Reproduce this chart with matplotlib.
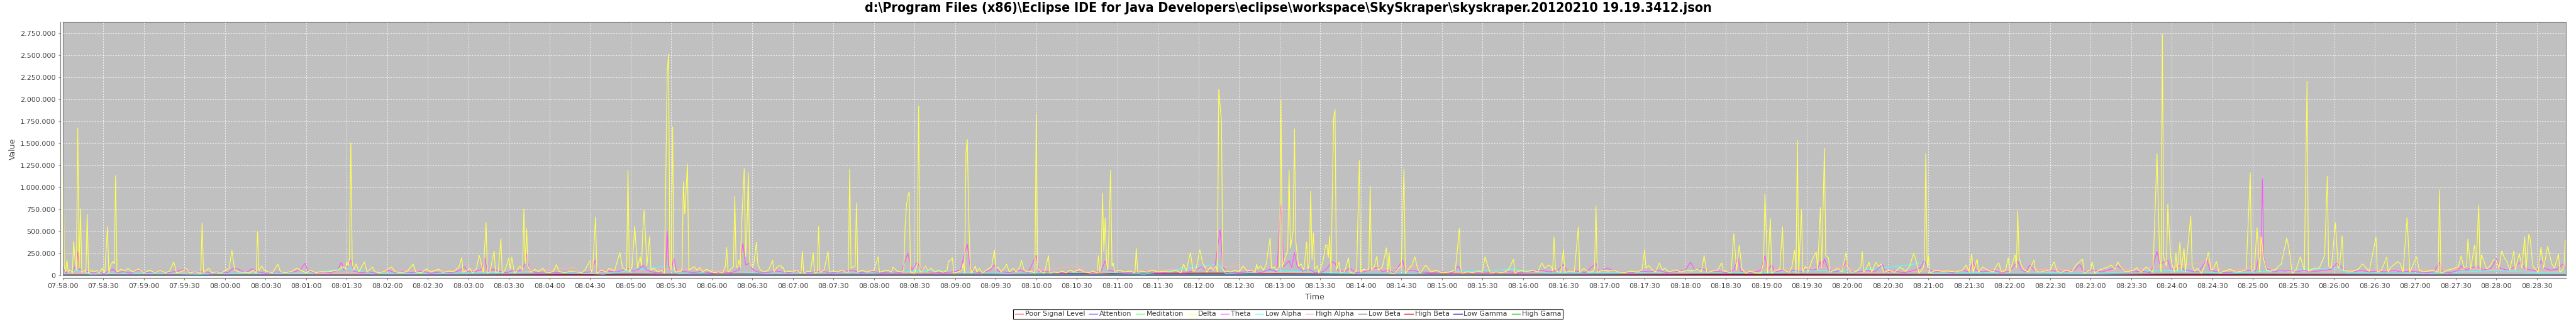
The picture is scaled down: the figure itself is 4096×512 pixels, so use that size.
import matplotlib
matplotlib.use("Agg")
import matplotlib.pyplot as plt
from matplotlib import font_manager
from matplotlib.ticker import MultipleLocator, FuncFormatter
from matplotlib.lines import Line2D

plt.rcParams['lines.scale_dashes'] = False
plt.rcParams['font.family'] = ['DejaVu Sans']

TITLE = r"d:\Program Files (x86)\Eclipse IDE for Java Developers\eclipse\workspace\SkySkraper\skyskraper.20120210 19.19.3412.json"
START_SECONDS = 7 * 3600 + 58 * 60  # 07:58:00

series_names = ["Poor Signal Level", "Attention", "Meditation", "Delta", "Theta",
                "Low Alpha", "High Alpha", "Low Beta", "High Beta", "Low Gamma", "High Gama"]
series_colors = ["#FF5555", "#5555FF", "#55FF55", "#FFFF55", "#FF55FF",
                 "#55FFFF", "#FFAFAF", "#808080", "#C00000", "#0000C0", "#00C000"]

# (seconds after 07:58:00, raw value)
poor_signal = [(0, 0), (1851, 0)]
attention = [(0, 40), (600, 60), (1200, 50), (1851, 45)]
meditation = [(0, 50), (600, 40), (1200, 60), (1851, 55)]

# (seconds after 07:58:00, value in thousands)
delta_k = [(0,1860),(1,100),(2,40),(3,178),(4,30),(5,60),(6,55),(7,25),(8,393),(9,178),(10,60),(11,1680),(12,83),(13,762),(14,36),(16,60),(17,30),(18,700),(19,24),(21,60),(23,40),(25,55),(27,30),(29,83),(31,30),(33,555),(34,24),(35,107),(37,160),(38,130),(39,1140),(40,36),(43,70),(46,50),(48,80),(52,40),(56,75),(60,30),(64,60),(68,35),(72,55),(76,30),(79,50),(82,155),(84,30),(88,45),(91,83),(94,30),(98,40),(102,24),(103,595),(104,36),(106,60),(108,83),(110,30),(114,40),(117,25),(120,55),(123,83),(125,286),(127,70),(130,40),(134,35),(138,30),(141,60),(143,24),(144,507),(145,50),(147,107),(149,60),(152,40),(155,30),(159,130),(161,40),(165,30),(170,50),(173,83),(176,60),(180,30),(183,60),(187,30),(191,45),(195,40),(199,50),(203,60),(207,100),(209,70),(210,155),(211,107),(212,200),(213,1510),(214,155),(215,60),(217,131),(219,40),(223,155),(225,40),(229,95),(231,40),(234,30),(238,50),(243,95),(246,40),(250,30),(255,50),(259,131),(261,40),(265,30),(269,76),(272,40),(278,71),(281,35),(286,50),(289,40),(293,95),(295,202),(296,36),(299,60),(301,83),(303,30),(306,80),(308,231),(311,36),(313,607),(314,24),(316,50),(319,278),(320,36),(322,40),(324,421),(325,24),(327,60),(330,202),(331,71),(332,210),(334,24),(336,60),(338,107),(340,60),(341,757),(342,131),(343,536),(344,107),(346,36),(349,70),(352,45),(355,83),(357,40),(360,30),(363,50),(365,124),(367,45),(371,30),(375,50),(379,40),(384,30),(386,60),(390,167),(391,36),(392,90),(394,667),(395,24),(398,60),(402,40),(404,83),(408,50),(412,262),(414,83),(417,60),(418,1200),(419,36),(421,95),(423,564),(425,83),(427,214),(428,107),(429,520),(430,743),(432,107),(434,445),(435,60),(437,83),(440,40),(443,60),(445,24),(447,2300),(448,2520),(449,107),(450,60),(451,1690),(452,107),(453,36),(455,50),(457,40),(458,83),(459,1070),(460,700),(462,1270),(463,60),(465,83),(467,100),(469,60),(471,90),(473,40),(476,70),(479,50),(482,30),(485,40),(488,30),(490,100),(491,320),(492,36),(494,70),(496,100),(497,905),(498,100),(499,90),(500,180),(501,83),(502,550),(504,1220),(505,214),(506,520),(507,1170),(508,150),(509,110),(510,100),(511,120),(513,381),(514,130),(516,60),(519,40),(522,60),(525,174),(526,40),(528,90),(530,115),(531,115),(532,80),(533,90),(534,36),(537,50),(540,40),(543,60),(546,24),(547,278),(548,24),(551,50),(553,40),(555,262),(556,24),(558,40),(559,560),(560,36),(563,60),(566,274),(567,36),(570,50),(573,40),(576,60),(579,40),(581,36),(582,1210),(583,83),(585,100),(586,107),(587,821),(588,36),(591,60),(594,40),(597,50),(600,60),(603,214),(604,36),(607,50),(610,60),(613,40),(614,95),(617,50),(620,40),(622,60),(623,560),(624,800),(625,893),(626,952),(627,36),(630,24),(632,131),(633,1930),(634,36),(636,60),(638,107),(640,50),(642,83),(645,40),(648,60),(651,35),(654,60),(655,160),(656,167),(657,180),(658,202),(659,24),(662,40),(665,60),(666,143),(667,24),(668,1400),(669,1550),(670,700),(671,179),(672,24),(675,107),(676,40),(678,83),(680,24),(683,60),(687,100),(689,293),(690,83),(692,90),(694,40),(697,95),(698,131),(700,40),(703,83),(705,40),(708,100),(709,174),(710,120),(711,60),(713,40),(716,50),(719,24),(720,1830),(721,83),(723,50),(726,24),(729,226),(730,24),(733,40),(736,30),(739,50),(742,30),(745,60),(748,40),(752,70),(755,40),(759,30),(762,50),(765,30),(766,226),(767,36),(768,100),(769,940),(770,270),(771,655),(772,131),(773,60),(775,1200),(776,107),(777,143),(778,36),(781,60),(785,40),(789,50),(793,30),(794,310),(795,36),(798,50),(802,40),(806,60),(810,40),(815,50),(819,40),(823,60),(827,30),(829,131),(831,50),(834,262),(836,48),(838,60),(841,293),(843,143),(845,95),(846,36),(849,95),(851,60),(853,110),(854,36),(855,2120),(857,1750),(858,71),(859,50),(861,48),(864,40),(867,60),(870,40),(873,107),(876,50),(879,60),(882,40),(883,131),(884,71),(886,107),(888,60),(890,120),(893,428),(894,83),(896,95),(898,60),(900,100),(901,2000),(902,95),(904,200),(906,285),(907,1200),(908,310),(910,500),(911,1670),(912,381),(914,107),(916,131),(918,60),(920,381),(921,60),(922,150),(923,964),(924,178),(925,488),(926,70),(928,112),(929,24),(932,155),(934,345),(935,350),(936,202),(937,452),(938,24),(940,1800),(941,1890),(942,60),(944,155),(945,36),(948,40),(951,202),(952,36),(955,24),(957,60),(959,1310),(960,36),(962,71),(964,60),(966,71),(967,1020),(968,60),(970,100),(972,221),(973,60),(976,95),(979,317),(980,36),(981,262),(982,24),(985,24),(988,83),(990,100),(992,1210),(993,24),(996,83),(998,120),(1000,214),(1002,83),(1004,24),(1008,119),(1012,40),(1016,60),(1020,30),(1025,36),(1030,60),(1033,536),(1034,83),(1035,24),(1039,40),(1043,30),(1047,50),(1050,40),(1052,214),(1054,107),(1056,24),(1060,40),(1064,30),(1068,50),(1070,83),(1073,186),(1074,24),(1078,60),(1082,40),(1087,60),(1091,40),(1094,143),(1096,83),(1099,119),(1101,100),(1102,48),(1103,440),(1104,71),(1106,40),(1108,36),(1110,293),(1111,36),(1115,50),(1118,40),(1121,555),(1122,36),(1125,79),(1129,36),(1132,50),(1133,83),(1134,793),(1135,36),(1139,60),(1143,50),(1147,60),(1151,40),(1155,30),(1160,50),(1164,40),(1168,60),(1170,293),(1171,83),(1173,112),(1176,60),(1178,40),(1181,143),(1183,60),(1185,83),(1188,40),(1193,64),(1197,40),(1201,60),(1205,50),(1209,71),(1212,40),(1214,226),(1216,36),(1220,50),(1224,60),(1227,143),(1228,60),(1231,40),(1234,36),(1236,476),(1238,60),(1240,345),(1242,71),(1245,24),(1248,50),(1252,30),(1256,24),(1258,150),(1259,929),(1261,24),(1263,650),(1264,24),(1266,48),(1270,71),(1272,555),(1273,60),(1277,36),(1279,100),(1281,293),(1282,24),(1283,1540),(1284,24),(1286,755),(1287,36),(1289,107),(1291,48),(1294,179),(1297,269),(1298,60),(1300,774),(1301,83),(1303,1450),(1304,226),(1306,202),(1307,36),(1310,60),(1313,79),(1316,40),(1319,262),(1320,107),(1323,36),(1327,50),(1330,100),(1331,274),(1332,36),(1334,83),(1336,150),(1338,36),(1341,148),(1343,100),(1345,131),(1347,36),(1351,60),(1355,36),(1359,95),(1363,50),(1366,100),(1369,255),(1371,155),(1373,24),(1376,83),(1377,150),(1378,1390),(1379,83),(1380,226),(1381,24),(1385,60),(1390,48),(1395,50),(1400,40),(1405,60),(1408,119),(1410,40),(1412,250),(1413,36),(1416,186),(1417,36),(1420,95),(1424,60),(1428,40),(1430,107),(1432,143),(1434,36),(1437,60),(1439,202),(1440,36),(1444,238),(1445,83),(1446,738),(1447,202),(1449,100),(1451,60),(1454,40),(1457,143),(1458,174),(1459,60),(1462,40),(1466,50),(1470,60),(1472,131),(1473,155),(1475,48),(1478,36),(1482,60),(1486,40),(1489,119),(1494,186),(1495,24),(1498,50),(1500,60),(1501,155),(1503,24),(1506,60),(1510,83),(1512,90),(1515,119),(1518,70),(1520,155),(1522,100),(1525,48),(1529,48),(1532,60),(1534,88),(1537,36),(1541,95),(1544,60),(1546,36),(1548,917),(1549,1390),(1551,202),(1552,36),(1553,2745),(1554,202),(1556,107),(1557,810),(1559,238),(1560,131),(1562,36),(1563,262),(1564,48),(1566,381),(1567,60),(1569,310),(1570,36),(1574,679),(1575,107),(1577,48),(1579,83),(1582,24),(1585,143),(1587,262),(1589,60),(1591,83),(1593,160),(1595,24),(1599,50),(1603,71),(1607,40),(1611,48),(1615,60),(1618,1170),(1619,48),(1621,60),(1623,548),(1625,36),(1626,440),(1628,179),(1630,60),(1633,50),(1637,71),(1639,107),(1641,131),(1645,428),(1647,274),(1649,24),(1652,71),(1655,214),(1656,167),(1658,60),(1660,2210),(1661,48),(1665,83),(1669,83),(1673,226),(1675,1130),(1676,107),(1678,83),(1681,602),(1683,83),(1684,95),(1686,452),(1687,60),(1690,50),(1694,48),(1698,70),(1701,131),(1706,48),(1711,436),(1712,36),(1715,60),(1719,210),(1720,36),(1722,95),(1727,155),(1729,136),(1731,36),(1734,660),(1736,36),(1741,214),(1743,60),(1746,40),(1749,48),(1753,60),(1757,36),(1758,976),(1759,24),(1764,60),(1769,83),(1772,100),(1774,226),(1776,83),(1778,107),(1779,417),(1781,71),(1784,350),(1785,83),(1787,802),(1788,60),(1789,238),(1791,155),(1793,71),(1796,120),(1798,179),(1800,174),(1802,83),(1804,281),(1806,200),(1808,155),(1810,60),(1813,281),(1814,60),(1817,250),(1819,83),(1821,445),(1822,60),(1824,469),(1825,421),(1827,107),(1831,36),(1833,321),(1835,83),(1838,333),(1841,131),(1843,83),(1846,245),(1847,36),(1850,83),(1851,393)]

theta_k = [(0,110),(2,30),(5,40),(8,60),(10,150),(11,267),(12,70),(14,60),(16,40),(19,50),(22,25),(26,45),(30,20),(34,50),(37,70),(40,30),(45,45),(50,25),(56,60),(62,30),(70,45),(78,30),(85,50),(90,70),(96,30),(104,45),(110,25),(116,40),(122,30),(126,80),(130,70),(135,30),(140,75),(144,40),(150,25),(158,40),(165,30),(172,45),(176,70),(179,138),(181,60),(186,30),(192,40),(198,30),(203,60),(206,150),(208,60),(211,120),(213,178),(215,50),(220,30),(226,40),(232,25),(240,60),(246,30),(252,45),(258,30),(265,50),(272,25),(280,40),(288,30),(294,60),(297,100),(300,40),(306,50),(310,70),(312,198),(314,40),(318,70),(322,50),(328,30),(334,60),(338,50),(341,100),(343,245),(345,60),(350,30),(358,40),(366,30),(374,45),(382,30),(390,40),(394,174),(396,40),(402,50),(410,40),(418,80),(422,50),(426,70),(429,115),(432,60),(438,30),(444,40),(446,100),(447,508),(448,100),(450,60),(452,202),(454,40),(460,45),(466,30),(472,45),(480,25),(488,40),(494,30),(500,60),(503,369),(505,120),(508,138),(510,70),(514,40),(520,30),(528,50),(536,30),(544,45),(552,30),(560,50),(568,30),(576,40),(584,60),(590,30),(598,45),(606,30),(614,40),(620,30),(625,255),(628,60),(632,150),(635,50),(638,100),(641,40),(650,30),(658,40),(664,60),(667,250),(669,357),(671,100),(674,40),(680,30),(686,60),(689,120),(692,50),(700,30),(708,60),(714,30),(720,231),(722,50),(730,40),(740,30),(750,45),(760,30),(768,50),(771,167),(773,60),(780,40),(790,30),(800,50),(810,30),(820,40),(830,30),(838,60),(842,100),(846,50),(852,70),(856,524),(858,100),(861,40),(870,30),(880,50),(886,30),(893,70),(898,40),(901,802),(903,100),(907,167),(909,90),(911,262),(913,100),(917,50),(922,70),(926,30),(932,40),(935,80),(937,120),(939,155),(941,140),(943,60),(948,40),(952,83),(956,30),(962,40),(966,60),(970,80),(973,90),(976,40),(980,60),(985,30),(991,174),(993,50),(998,60),(1004,40),(1012,30),(1020,40),(1028,30),(1032,107),(1035,40),(1042,30),(1050,40),(1060,30),(1068,45),(1076,30),(1085,40),(1093,60),(1100,40),(1106,60),(1110,126),(1113,40),(1120,50),(1126,30),(1134,138),(1136,40),(1142,83),(1146,60),(1152,40),(1160,30),(1168,50),(1174,40),(1180,60),(1186,30),(1194,45),(1200,60),(1204,150),(1207,60),(1212,80),(1218,40),(1224,50),(1230,30),(1236,60),(1239,198),(1241,50),(1246,30),(1252,40),(1256,60),(1259,221),(1261,60),(1264,124),(1266,40),(1272,60),(1276,40),(1281,60),(1285,40),(1290,70),(1295,60),(1298,80),(1300,160),(1301,80),(1303,190),(1306,60),(1310,40),(1316,60),(1319,167),(1322,50),(1328,40),(1334,60),(1340,40),(1346,124),(1348,40),(1355,50),(1362,30),(1370,60),(1374,90),(1377,174),(1379,80),(1384,40),(1390,50),(1398,30),(1405,60),(1410,40),(1413,160),(1415,60),(1420,40),(1428,60),(1434,30),(1440,50),(1446,160),(1449,60),(1452,40),(1455,120),(1458,60),(1464,40),(1470,60),(1474,50),(1480,40),(1488,60),(1492,124),(1495,40),(1502,60),(1508,40),(1515,70),(1520,110),(1524,60),(1530,40),(1538,50),(1544,30),(1546,100),(1549,274),(1551,130),(1554,150),(1557,174),(1559,80),(1562,60),(1566,120),(1569,60),(1574,50),(1580,40),(1586,183),(1588,60),(1594,40),(1600,30),(1606,40),(1612,50),(1618,60),(1622,50),(1626,300),(1627,1100),(1628,200),(1630,80),(1636,40),(1640,60),(1644,50),(1648,60),(1652,40),(1658,60),(1662,40),(1668,50),(1674,60),(1678,70),(1682,140),(1685,100),(1688,60),(1694,40),(1700,60),(1706,40),(1712,50),(1718,40),(1724,60),(1730,40),(1736,50),(1742,40),(1748,30),(1754,40),(1758,150),(1760,40),(1766,30),(1772,60),(1774,107),(1778,60),(1782,90),(1786,100),(1790,60),(1796,80),(1800,190),(1803,80),(1808,60),(1813,90),(1818,155),(1821,80),(1826,60),(1830,50),(1833,167),(1836,80),(1840,60),(1845,70),(1849,131),(1851,80)]

low_alpha_k = [(0,20),(12,60),(20,15),(60,25),(100,15),(150,30),(180,20),(210,83),(230,20),(300,25),(345,40),(400,15),(447,110),(455,20),(500,40),(520,20),(600,25),(632,50),(700,20),(770,40),(800,15),(855,131),(860,20),(905,50),(950,25),(1000,20),(1072,70),(1100,25),(1200,40),(1260,30),(1303,60),(1320,40),(1378,143),(1382,20),(1450,40),(1500,20),(1552,60),(1600,25),(1682,83),(1690,30),(1750,20),(1800,60),(1830,30),(1851,40)]

high_alpha_k = [(0,30),(50,20),(120,40),(200,25),(290,60),(330,30),(378,90),(385,20),(450,80),(500,40),(600,30),(700,25),(751,107),(760,20),(870,110),(880,30),(950,40),(1009,119),(1015,30),(1100,40),(1200,30),(1319,100),(1330,30),(1400,60),(1480,70),(1500,30),(1587,150),(1600,40),(1620,100),(1626,450),(1629,100),(1640,40),(1700,60),(1800,70),(1851,40)]

low_beta_k = [(0,10),(200,8),(420,20),(500,10),(860,30),(1000,10),(1250,20),(1500,10),(1560,20),(1851,10)]
high_beta_k = [(0,5),(300,8),(447,15),(860,20),(1280,10),(1600,12),(1851,5)]
low_gamma_k = [(0,3),(900,5),(1851,3)]
high_gamma_k = [(0,3),(1300,6),(1851,3)]

raw_series = [poor_signal, attention, meditation]
k_series = [delta_k, theta_k, low_alpha_k, high_alpha_k, low_beta_k, high_beta_k, low_gamma_k, high_gamma_k]

W, H = 4096, 512
fig = plt.figure(figsize=(W / 100, H / 100), dpi=100)
fig.patch.set_facecolor("white")

PL, PR, PT, PB = 100, 4080, 35, 438
ax = fig.add_axes([PL / W, 1 - PB / H, (PR - PL) / W, (PB - PT) / H])
ax.set_facecolor("#C0C0C0")

all_series = []
for s in raw_series:
    all_series.append(([p[0] for p in s], [p[1] for p in s]))
for s in k_series:
    all_series.append(([p[0] for p in s], [p[1] * 1000 for p in s]))

handles = []
n = len(series_names)
for i, (name, col, (xs, ys)) in enumerate(zip(series_names, series_colors, all_series)):
    ax.plot(xs, ys, color=col, lw=0.9, label=name, zorder=20 - i, solid_joinstyle="miter")
    handles.append(Line2D([0], [0], color=col, lw=1.0))

ax.set_xlim(0, 1851.5)
ax.set_ylim(0, 2.745e6 * 1.05)

ax.xaxis.set_major_locator(MultipleLocator(30))
ax.yaxis.set_major_locator(MultipleLocator(250000))

def fmt_time(x, pos):
    t = int(round(START_SECONDS + x))
    return "%02d:%02d:%02d" % (t // 3600, (t // 60) % 60, t % 60)

def fmt_val(y, pos):
    return "{:,}".format(int(round(y))).replace(",", ".")

ax.xaxis.set_major_formatter(FuncFormatter(fmt_time))
ax.yaxis.set_major_formatter(FuncFormatter(fmt_val))

ax.grid(True, color="#F4F4F4", lw=0.7, ls=(0, (1.5, 1.5)), zorder=0)
ax.set_axisbelow(True)

for side in ("top", "right"):
    ax.spines[side].set_color("#808080")
    ax.spines[side].set_linewidth(0.8)
for side in ("left", "bottom"):
    ax.spines[side].set_position(("outward", 3))
    ax.spines[side].set_color("#808080")
    ax.spines[side].set_linewidth(0.9)
ax.plot([0, 0], [0, 1], transform=ax.transAxes, color="#808080", lw=0.8, clip_on=False, zorder=30)
ax.plot([0, 1], [0, 0], transform=ax.transAxes, color="#808080", lw=0.8, clip_on=False, zorder=30)

ax.tick_params(axis="both", which="major", direction="out", length=2.5, width=0.8,
               color="#808080", labelcolor="#444444", labelsize=8)
ax.tick_params(axis="x", pad=3)
ax.tick_params(axis="y", pad=3)

fig.text((PL + PR) / 2 / W, 1 - 472 / H, "Time", ha="center", va="center", fontsize=9, color="#444444")
fig.text(20 / W, 1 - ((PT + PB) / 2) / H, "Value", ha="center", va="center", rotation=90,
         fontsize=9, color="#444444")

names = {f.name for f in font_manager.fontManager.ttflist}
if "Liberation Sans Narrow" in names:
    tkw = dict(family="Liberation Sans Narrow")
else:
    tkw = dict(family="DejaVu Sans", stretch="condensed")
title = fig.text(0.5, 1 - 13 / H, TITLE, ha="center", va="center", fontweight="bold",
                 fontsize=16, color="black", **tkw)
fig.canvas.draw()
bb = title.get_window_extent(fig.canvas.get_renderer())
title.set_fontsize(16 * 1350.0 / bb.width)

leg = fig.legend(handles, series_names, loc="center", bbox_to_anchor=(0.5, 1 - 499.5 / H),
                 ncol=n, frameon=True, fancybox=False, edgecolor="black", framealpha=1,
                 fontsize=8, handlelength=1.2, handletextpad=0.25, columnspacing=0.6,
                 borderpad=0.25, labelcolor="#333333")
leg.get_frame().set_linewidth(0.8)

fig.savefig("out.png", dpi=100)
